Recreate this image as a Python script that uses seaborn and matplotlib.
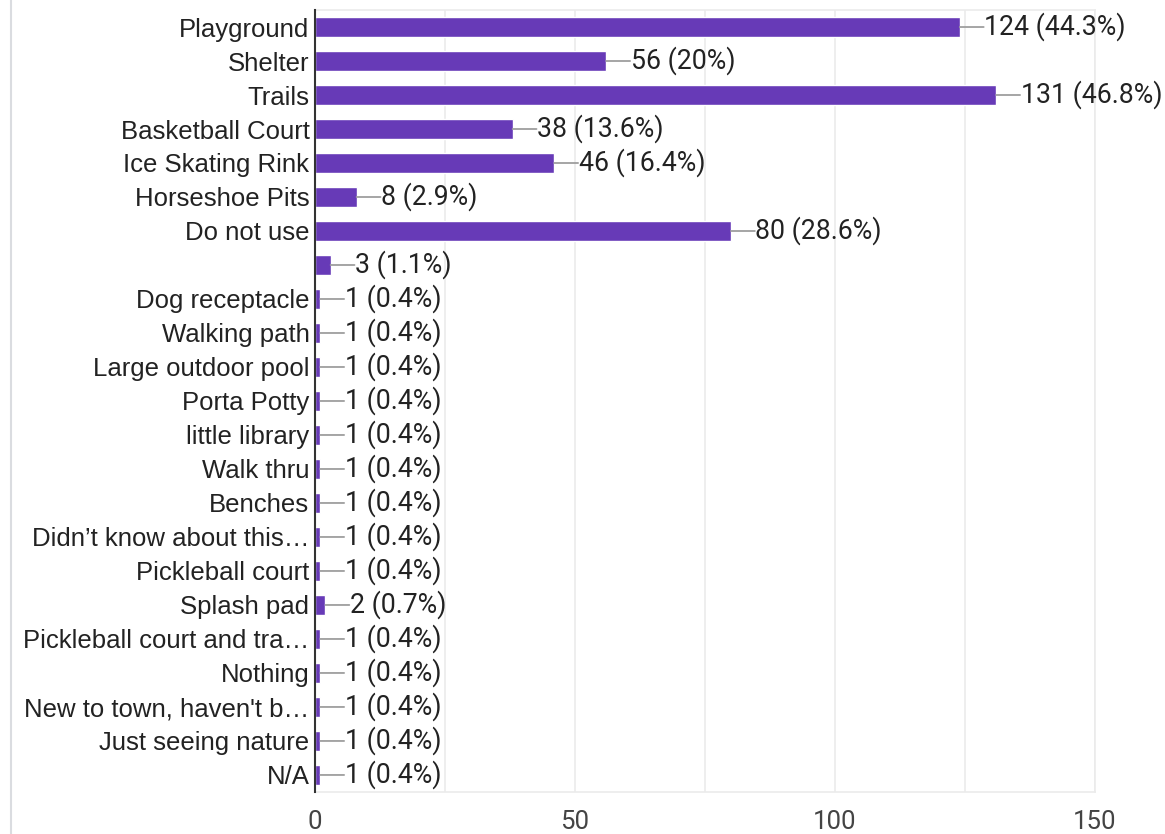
import matplotlib
matplotlib.use('Agg')
import matplotlib.pyplot as plt
import seaborn as sns
import pandas as pd
from matplotlib.lines import Line2D

categories = [
    'Playground', 'Shelter', 'Trails', 'Basketball Court', 'Ice Skating Rink',
    'Horseshoe Pits', 'Do not use', '', 'Dog receptacle', 'Walking path',
    'Large outdoor pool', 'Porta Potty', 'little library', 'Walk thru',
    'Benches', 'Didn\u2019t know about this\u2026', 'Pickleball court',
    'Splash pad', 'Pickleball court and tra\u2026', 'Nothing',
    'New to town, haven\'t b\u2026', 'Just seeing nature', 'N/A',
]
counts = [124, 56, 131, 38, 46, 8, 80, 3, 1, 1, 1, 1, 1, 1, 1, 1, 1, 2, 1, 1, 1, 1, 1]
percents = ['44.3%', '20%', '46.8%', '13.6%', '16.4%', '2.9%', '28.6%', '1.1%',
            '0.4%', '0.4%', '0.4%', '0.4%', '0.4%', '0.4%', '0.4%', '0.4%',
            '0.4%', '0.7%', '0.4%', '0.4%', '0.4%', '0.4%', '0.4%']
x_ticks = [0, 50, 100, 150]

df = pd.DataFrame({'answer': categories, 'count': counts})

sns.set_style('white')
plt.rcParams['font.family'] = ['Liberation Sans', 'DejaVu Sans']
text_color = '#222222'
num_font = ['Roboto', 'Liberation Sans', 'DejaVu Sans']

fig = plt.figure(figsize=(11.65, 8.34), dpi=100)
ax = fig.add_axes([0.2704, 0.0504, 0.6695, 0.9376])

sns.barplot(data=df, y='answer', x='count', orient='h', order=categories,
            color='#673ab7', saturation=1, width=0.6, ax=ax)

ax.set_xlim(0, 150)
ax.set_ylim(len(categories) - 0.5, -0.5)
ax.set_xticks(range(0, 151, 25))
ax.set_xticklabels([str(t) if t in x_ticks else '' for t in range(0, 151, 25)],
                   family=num_font)
ax.grid(axis='x', color='#ebebeb', linewidth=1.2)
ax.set_axisbelow(True)
ax.tick_params(axis='both', length=0, labelsize=18.5, colors=text_color)
ax.tick_params(axis='x', pad=13, colors='#444444')
ax.tick_params(axis='y', pad=4)
ax.set_xlabel('')
ax.set_ylabel('')

for side in ['top', 'right', 'bottom']:
    ax.spines[side].set_color('#ebebeb')
    ax.spines[side].set_linewidth(1.2)
ax.spines['left'].set_color('#333333')
ax.spines['left'].set_linewidth(1.5)
ax.spines['left'].set_zorder(5)

# leader lines and value labels
for i, (c, p) in enumerate(zip(counts, percents)):
    ax.annotate('', xy=(c, i), xytext=(17.2, 0), textcoords='offset points',
                arrowprops=dict(arrowstyle='-', color='#9e9e9e', lw=1.3,
                                shrinkA=0, shrinkB=0))
    ax.annotate(f'{c} ({p})', xy=(c, i), xytext=(17.6, 0), textcoords='offset points',
                ha='left', va='center', fontsize=19.2, color=text_color,
                family=num_font)

# light border at the left edge of the card
fig.add_artist(Line2D([0.0094, 0.0094], [0, 1], transform=fig.transFigure,
                      color='#dadce0', linewidth=1.5))

fig.savefig('out.png', dpi=100)
plt.close(fig)
